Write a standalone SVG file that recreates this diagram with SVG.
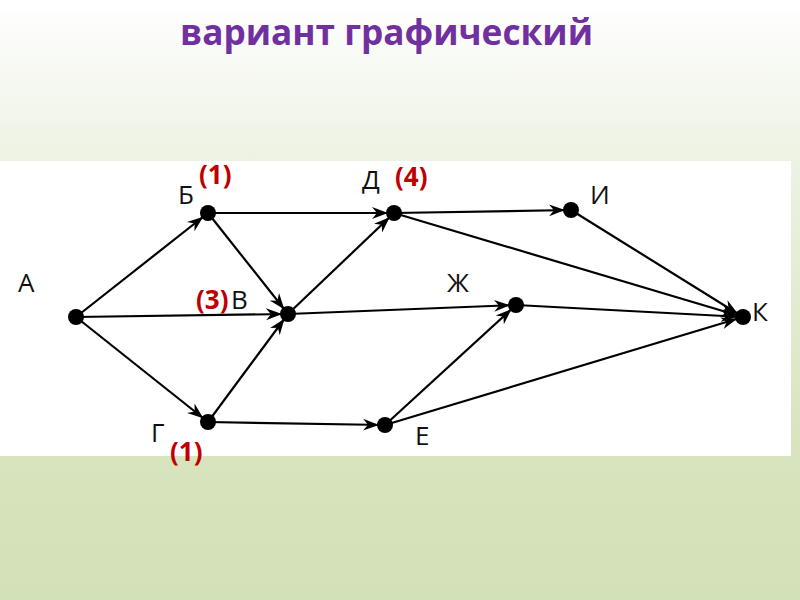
<svg xmlns="http://www.w3.org/2000/svg" width="800" height="600" viewBox="0 0 800 600">
<defs>
<linearGradient id="bg" x1="0" y1="0" x2="0" y2="1">
<stop offset="0" stop-color="#ffffff"/>
<stop offset="0.25" stop-color="#eef3e5"/>
<stop offset="0.75" stop-color="#d7e4bd"/>
<stop offset="1" stop-color="#d3e1b8"/>
</linearGradient>
<marker id="ar" markerUnits="userSpaceOnUse" markerWidth="26" markerHeight="14" refX="22" refY="7" orient="auto">
<path d="M0,1 L16,7 L0,13 L5,7 Z" fill="#000"/>
</marker>
<style>
.e{stroke:#000;stroke-width:2.2;fill:none;marker-end:url(#ar)}
.n{fill:#000}
.l{font-family:"Open Sans","Liberation Sans",sans-serif;font-size:26px;fill:#111}
.r{font-family:"Open Sans","Liberation Sans",sans-serif;font-size:26px;font-weight:bold;fill:#c00000}
.t{font-family:"Open Sans","Liberation Sans",sans-serif;font-size:36px;font-weight:bold;fill:#7030a0}
</style>
</defs>
<rect x="0" y="0" width="800" height="600" fill="url(#bg)"/>
<rect x="0" y="161" width="791" height="295" fill="#ffffff"/>
<text class="t" x="180" y="45" textLength="413" lengthAdjust="spacingAndGlyphs">вариант графический</text>
<g id="connectors">
<line class="e" x1="76" y1="317" x2="208" y2="213"/>
<line class="e" x1="76" y1="317" x2="288" y2="314"/>
<line class="e" x1="76" y1="317" x2="208" y2="422"/>
<line class="e" x1="208" y1="213" x2="394" y2="213"/>
<line class="e" x1="208" y1="213" x2="288" y2="314"/>
<line class="e" x1="208" y1="422" x2="288" y2="314"/>
<line class="e" x1="288" y1="314" x2="394" y2="213"/>
<line class="e" x1="288" y1="314" x2="516" y2="305"/>
<line class="e" x1="208" y1="422" x2="385" y2="425"/>
<line class="e" x1="385" y1="425" x2="516" y2="305"/>
<line class="e" x1="394" y1="213" x2="571" y2="210"/>
<line class="e" x1="394" y1="213" x2="743" y2="317"/>
<line class="e" x1="571" y1="210" x2="743" y2="317"/>
<line class="e" x1="516" y1="305" x2="743" y2="317"/>
<line class="e" x1="385" y1="425" x2="743" y2="317"/>
</g>
<g id="A"><circle class="n" cx="76" cy="317" r="8"/><text class="l" x="18" y="292">А</text></g>
<g id="B"><circle class="n" cx="208" cy="213" r="8"/><text class="l" x="178" y="204">Б</text><text class="r" x="199" y="184">(1)</text></g>
<g id="V"><circle class="n" cx="288" cy="314" r="8"/><text class="l" x="231" y="309">В</text><text class="r" x="196" y="309">(3)</text></g>
<g id="D"><circle class="n" cx="394" cy="213" r="8"/><text class="l" x="362" y="189">Д</text><text class="r" x="395" y="186">(4)</text></g>
<g id="I"><circle class="n" cx="571" cy="210" r="8"/><text class="l" x="590" y="204">И</text></g>
<g id="Zh"><circle class="n" cx="516" cy="305" r="8"/><text class="l" x="447" y="292">Ж</text></g>
<g id="K"><circle class="n" cx="743" cy="317" r="8"/><text class="l" x="752" y="321">К</text></g>
<g id="G"><circle class="n" cx="208" cy="422" r="8"/><text class="l" x="151" y="442">Г</text><text class="r" x="170" y="461">(1)</text></g>
<g id="E"><circle class="n" cx="385" cy="425" r="8"/><text class="l" x="415" y="445">Е</text></g>
</svg>
